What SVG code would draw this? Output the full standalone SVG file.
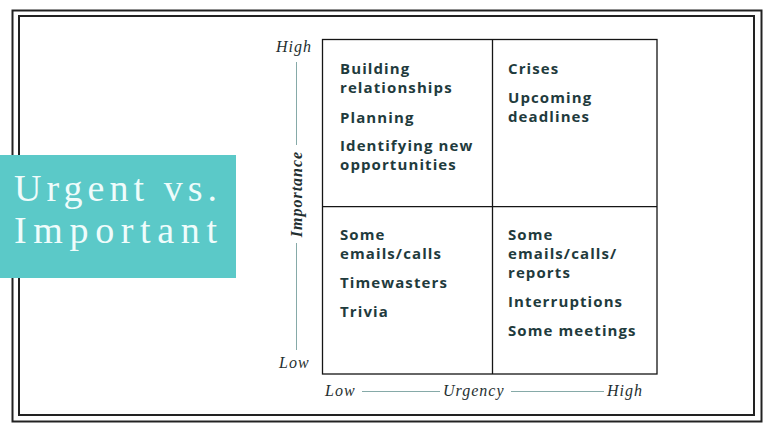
<svg xmlns="http://www.w3.org/2000/svg" width="773" height="432" viewBox="0 0 773 432">
  <style>
    .frame { fill: none; stroke: #222; stroke-width: 2; }
    .grid { fill: none; stroke: #151515; stroke-width: 1.3; }
    .q { font-family: "Open Sans", "Noto Sans", sans-serif; font-weight: 700; font-size: 15px; fill: #1f3b3d; letter-spacing: 1.1px; }
    .ax { font-family: "Liberation Serif", "DejaVu Serif", serif; font-style: italic; font-size: 16px; fill: #1f2f30; letter-spacing: 1px; }
    .axline { stroke: #86aaa8; stroke-width: 1; fill: none; }
    .title { font-family: "Liberation Serif", "DejaVu Serif", serif; font-size: 38px; fill: #effcfb; }
  </style>
  <rect width="773" height="432" fill="#ffffff"/>
  <g id="frame">
    <rect class="frame" x="12.5" y="10.5" width="749" height="411"/>
    <rect class="frame" x="19" y="16" width="735" height="399"/>
  </g>
  <g id="title">
    <rect x="0" y="155" width="236" height="123" fill="#5bc9c8"/>
    <text class="title" x="14" y="201" textLength="203" lengthAdjust="spacing">Urgent vs.</text>
    <text class="title" x="14" y="243" textLength="203" lengthAdjust="spacing">Important</text>
  </g>
  <g id="grid">
    <rect class="grid" x="322.5" y="39.5" width="334.5" height="334.5"/>
    <line class="grid" x1="492.5" y1="39.5" x2="492.5" y2="374"/>
    <line class="grid" x1="322.5" y1="206.7" x2="657" y2="206.7"/>
  </g>
  <g id="q-important-not-urgent">
    <text class="q" x="340" y="74">Building</text>
    <text class="q" x="340" y="93">relationships</text>
    <text class="q" x="340" y="122.5">Planning</text>
    <text class="q" x="340" y="151">Identifying new</text>
    <text class="q" x="340" y="170">opportunities</text>
  </g>
  <g id="q-important-urgent">
    <text class="q" x="508" y="73.5">Crises</text>
    <text class="q" x="508" y="102.5">Upcoming</text>
    <text class="q" x="508" y="121.5">deadlines</text>
  </g>
  <g id="q-not-important-not-urgent">
    <text class="q" x="340" y="239.5">Some</text>
    <text class="q" x="340" y="259">emails/calls</text>
    <text class="q" x="340" y="288">Timewasters</text>
    <text class="q" x="340" y="317">Trivia</text>
  </g>
  <g id="q-not-important-urgent">
    <text class="q" x="508" y="239.5">Some</text>
    <text class="q" x="508" y="259">emails/calls/</text>
    <text class="q" x="508" y="278">reports</text>
    <text class="q" x="508" y="307">Interruptions</text>
    <text class="q" x="508" y="336">Some meetings</text>
  </g>
  <g id="connectors">
    <line class="axline" x1="296.5" y1="62" x2="296.5" y2="145"/>
    <line class="axline" x1="296.5" y1="243" x2="296.5" y2="350"/>
    <line class="axline" x1="362" y1="391.5" x2="440" y2="391.5"/>
    <line class="axline" x1="511" y1="391.5" x2="604" y2="391.5"/>
  </g>
  <g id="axis-importance">
    <text class="ax" x="276" y="52">High</text>
    <text class="ax" x="279" y="368">Low</text>
    <text class="ax" font-weight="bold" transform="translate(301.5 194) rotate(-90)" text-anchor="middle">Importance</text>
  </g>
  <g id="axis-urgency">
    <text class="ax" x="325" y="396">Low</text>
    <text class="ax" x="443" y="396">Urgency</text>
    <text class="ax" x="607" y="396">High</text>
  </g>
</svg>
